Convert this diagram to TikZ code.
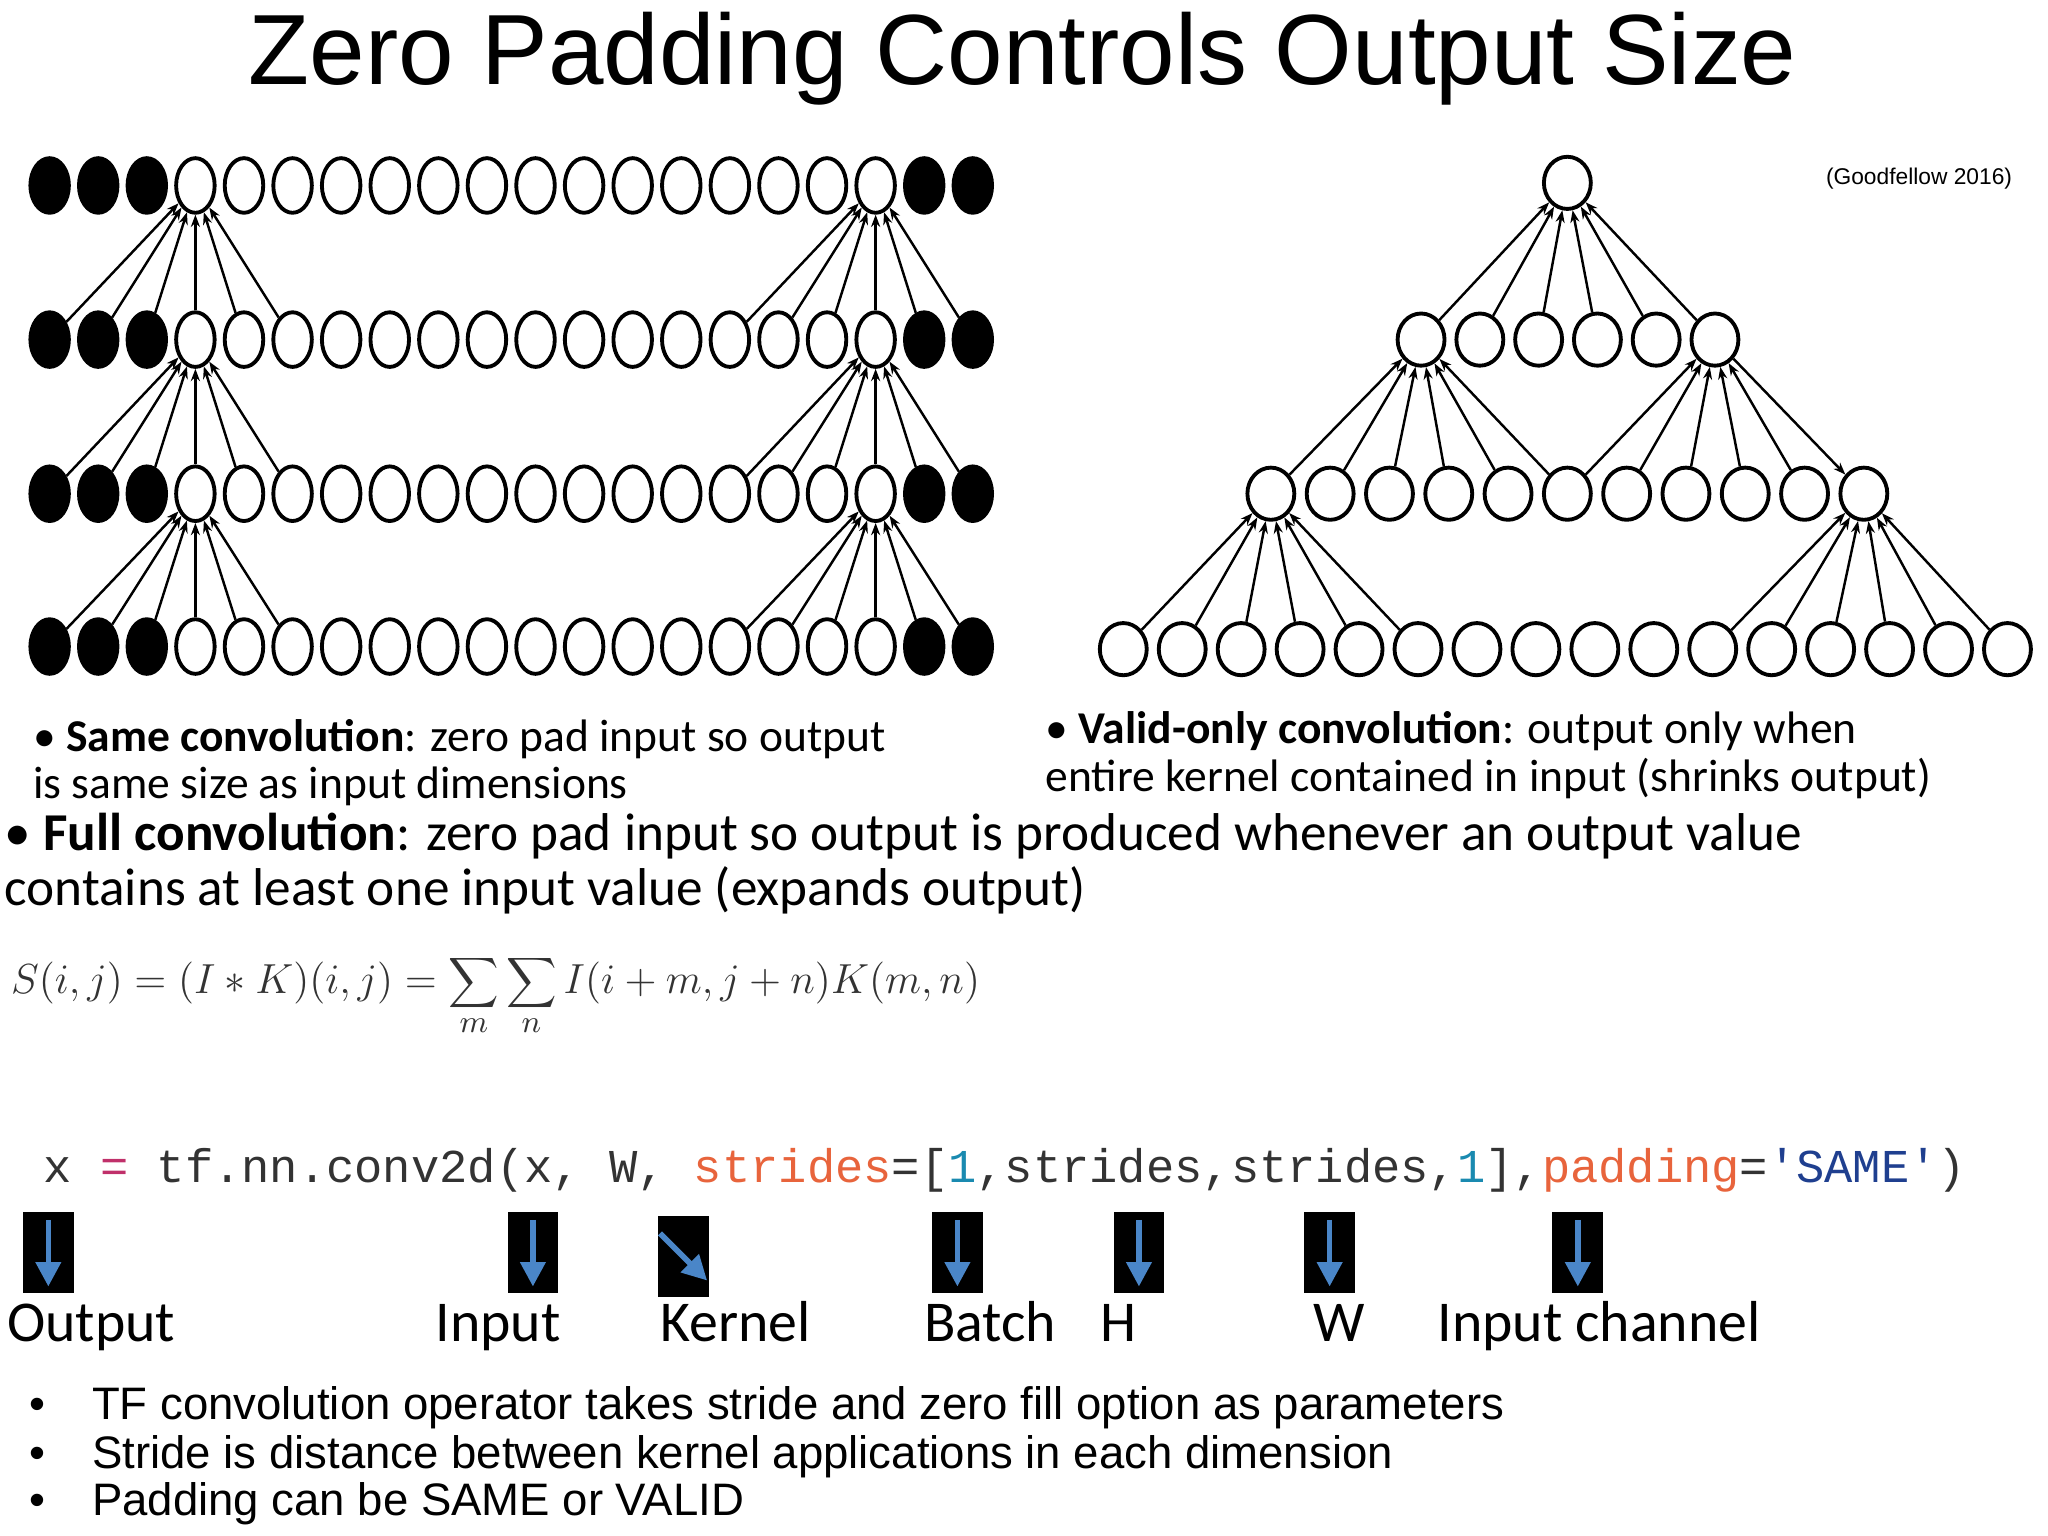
\documentclass[tikz,border=0pt]{standalone}
\usepackage{fontspec}
\setmainfont{Carlito}
\newfontfamily\arial{Liberation Sans}
\newfontfamily\codefont{Liberation Mono}
\usetikzlibrary{shapes.geometric,arrows.meta}
\definecolor{cpink}{HTML}{C0306A}
\definecolor{corange}{HTML}{E8643C}
\definecolor{cteal}{HTML}{1A8AB0}
\definecolor{cblue}{HTML}{1F3F8F}
\definecolor{ccode}{HTML}{333333}
\definecolor{iconblue}{HTML}{4A86C8}
\tikzset{
  lnode/.style={ellipse,draw,line width=1.1pt,inner sep=0pt,minimum width=11pt,minimum height=15.6pt},
  pad/.style={lnode,fill=black},
  rnode/.style={ellipse,draw,line width=1.1pt,inner sep=0pt,minimum width=13.4pt,minimum height=14.9pt},
  conn/.style={line width=0.7pt,-{Stealth[length=3.5pt,width=2.6pt]}},
  txt/.style={anchor=base west,inner sep=0pt},
  body/.style={txt,font=\fontsize{13}{13.8}\selectfont},
  full/.style={txt,font=\fontsize{15.2}{15.6}\selectfont},
  lab/.style={txt,font=\fontsize{16.5}{18}\selectfont},
  bul/.style={txt,font=\arial\fontsize{13}{14}\selectfont},
}
\newcommand{\tficon}[4]{% x y rotate name
  \begin{scope}[shift={(#1,#2)},rotate=#3]
    \node[fill=black,minimum width=14.5pt,minimum height=23pt,inner sep=0pt] (#4) at (0,0) {};
    \draw[iconblue,line width=1.6pt,-{Triangle[length=7pt,width=7pt]}] (0,-25) -- (0,26);
  \end{scope}}
\begin{document}
\begin{tikzpicture}[x=0.0131cm,y=-0.0131cm]
\useasboundingbox[fill=white] (0,0) rectangle (1568,1176);
% title
\node[anchor=base,inner sep=0pt,font=\arial\fontsize{28.5}{30}\selectfont] (title) at (783,65) {Zero Padding Controls Output Size};
\node[anchor=base east,inner sep=0pt,font=\arial\fontsize{6.5}{7}\selectfont] (cite) at (1541,141) {(Goodfellow 2016)};
% left diagram
\foreach \r/\y in {1/142,2/260,3/378,4/495}{
  \foreach \i in {0,1,2,18,19}{\node[pad] (L\r-\i) at ({38+37.2*\i},\y) {};}
  \foreach \i in {3,...,17}{\node[lnode] (L\r-\i) at ({38+37.2*\i},\y) {};}
}
\foreach \r/\s in {1/2,2/3,3/4}{
  \foreach \i in {0,...,5}{\draw[conn] (L\s-\i) -- (L\r-3);}
  \foreach \i in {14,...,19}{\draw[conn] (L\s-\i) -- (L\r-17);}
}
% right diagram
\node[rnode] (R1-0) at (1200,140) {};
\foreach \i in {0,...,5}{\node[rnode] (R2-\i) at ({1088+45*\i},260) {};}
\foreach \i in {0,...,10}{\node[rnode] (R3-\i) at ({973+45.4*\i},378) {};}
\foreach \i in {0,...,15}{\node[rnode] (R4-\i) at ({860+45.13*\i},497) {};}
\foreach \i in {0,...,5}{\draw[conn] (R2-\i) -- (R1-0);}
\foreach \i in {0,...,5}{\draw[conn] (R3-\i) -- (R2-0);}
\foreach \i in {5,...,9}{\draw[conn] (R3-\i) -- (R2-5);}
\draw[conn] (R2-5) -- (R3-10);
\foreach \i in {0,...,5}{\draw[conn] (R4-\i) -- (R3-0);}
\foreach \i in {10,...,15}{\draw[conn] (R4-\i) -- (R3-10);}
% descriptions
\node[body] (same1) at (25,575) {\textbullet\ \textbf{Same convolution}: zero pad input so output};
\node[body] (same2) at (25,611) {is same size as input dimensions};
\node[body] (valid1) at (800,569) {\textbullet\ \textbf{Valid-only convolution}: output only when};
\node[body] (valid2) at (800,606) {entire kernel contained in input (shrinks output)};
\node[full] (full1) at (3,651) {\textbullet\ \textbf{Full convolution}: zero pad input so output is produced whenever an output value};
\node[full] (full2) at (3,693) {contains at least one input value (expands output)};
% formula
\node[anchor=west,inner sep=0pt,text=black!80,font=\fontsize{13}{15}\selectfont] (formula) at (8,762) {$\displaystyle S(i,j)=(I*K)(i,j)=\sum_m\sum_n I(i+m,j+n)K(m,n)$};
% code
\node[txt,font=\codefont\fontsize{13.45}{15}\selectfont,text=ccode] (code) at (33,905) {x \textcolor{cpink}{=} tf.nn.conv2d(x, W, \textcolor{corange}{strides}=[\textcolor{cteal}{1},strides,strides,\textcolor{cteal}{1}],\textcolor{corange}{padding}=\textcolor{cblue}{'SAME'})};
% icons
\tficon{37}{959}{0}{iOut}
\tficon{408}{959}{0}{iIn}
\tficon{523}{962}{45}{iKer}
\tficon{733}{959}{0}{iBat}
\tficon{872}{959}{0}{iH}
\tficon{1018}{959}{0}{iW}
\tficon{1208}{959}{0}{iCh}
\node[lab] (lOut) at (5,1027) {Output};
\node[lab] (lIn) at (333,1027) {Input};
\node[lab] (lKer) at (505,1027) {Kernel};
\node[lab] (lBat) at (707,1027) {Batch};
\node[lab] (lH) at (842,1027) {H};
\node[lab] (lW) at (1005,1027) {W};
\node[lab] (lCh) at (1100,1027) {Input channel};
% bullets
\foreach \y/\t [count=\k] in {1087/TF convolution operator takes stride and zero fill option as parameters,1124/Stride is distance between kernel applications in each dimension,1160/Padding can be SAME or VALID}{
  \node[bul] (bd\k) at (22,\y) {\textbullet};
  \node[bul] (bt\k) at (70,\y) {\t};
}
\end{tikzpicture}
\end{document}
